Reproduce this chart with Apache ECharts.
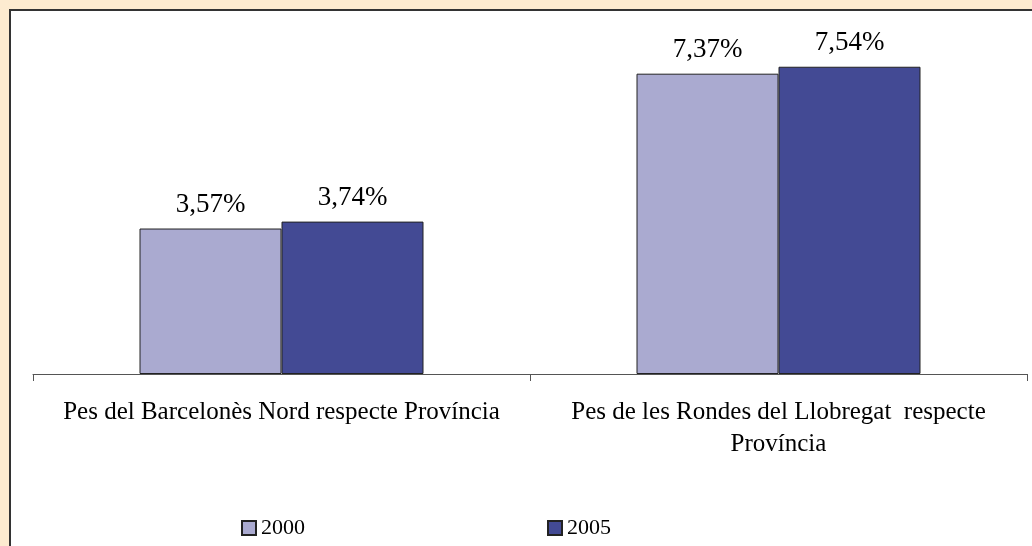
<!DOCTYPE html>
<html>
<head>
<meta charset="utf-8">
<script src="https://cdn.jsdelivr.net/npm/echarts@6/dist/echarts.min.js"></script>
<style>
  html, body { margin: 0; padding: 0; background: #FDEBD0; }
  #chart { width: 1032px; height: 546px; }
</style>
</head>
<body>
<div id="chart"></div>
<script>
const categories = [
  'Pes del Barcelonès Nord respecte Província',
  'Pes de les Rondes del Llobregat  respecte\nProvíncia'
];
const years = ['2000', '2005'];
const values2000 = [3.57, 7.37];
const values2005 = [3.74, 7.54];

const chart = echarts.init(document.getElementById('chart'));
const font = 'Liberation Serif, Times New Roman, serif';

const fmt = p => p.value.toFixed(2).replace('.', ',') + '%';

const option = {
  backgroundColor: '#FDEBD0',
  animation: false,
  graphic: [{
    type: 'rect',
    shape: { x: 10, y: 10, width: 1040, height: 560 },
    style: { fill: '#fff', stroke: '#333', lineWidth: 2 },
    z: -10
  }],
  legend: {
    data: years,
    left: 236,
    top: 512,
    itemWidth: 14,
    itemHeight: 14,
    itemGap: 242,
    icon: 'rect',
    textStyle: { fontFamily: font, fontSize: 22, color: '#000' }
  },
  grid: {
    left: 33,
    right: 5,
    top: 48,
    bottom: 172
  },
  xAxis: {
    type: 'category',
    data: categories,
    axisLine: { lineStyle: { color: '#555', width: 1 } },
    axisTick: { show: true, length: 7, lineStyle: { color: '#555' } },
    axisLabel: {
      interval: 0,
      margin: 22,
      fontFamily: font,
      fontSize: 25,
      color: '#000',
      lineHeight: 32
    }
  },
  yAxis: {
    type: 'value',
    min: 0,
    max: 8,
    show: false,
    splitLine: { show: false }
  },
  series: [
    {
      name: years[0],
      type: 'bar',
      data: values2000,
      barWidth: 142,
      barGap: '0%',
      itemStyle: { color: '#AAAAD0', borderColor: '#222', borderWidth: 1 },
      label: { show: true, position: 'top', distance: 10, formatter: fmt, fontFamily: font, fontSize: 27, color: '#000' }
    },
    {
      name: years[1],
      type: 'bar',
      data: values2005,
      barWidth: 142,
      barGap: '0%',
      itemStyle: { color: '#434A94', borderColor: '#222', borderWidth: 1 },
      label: { show: true, position: 'top', distance: 10, formatter: fmt, fontFamily: font, fontSize: 27, color: '#000' }
    }
  ]
};

chart.setOption(option);
</script>
</body>
</html>
